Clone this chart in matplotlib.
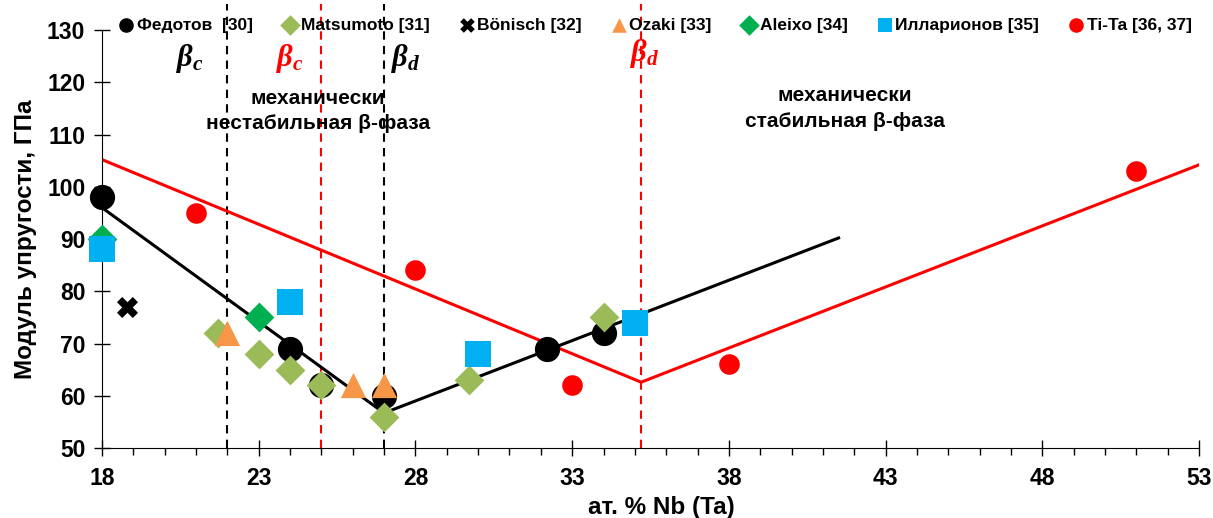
import numpy as np
import matplotlib.pyplot as plt
from matplotlib.ticker import MultipleLocator

plt.rcParams['font.family'] = ['Liberation Sans', 'DejaVu Sans']
plt.rcParams['font.weight'] = 'bold'
plt.rcParams['mathtext.fontset'] = 'custom'
plt.rcParams['mathtext.it'] = 'Liberation Serif:italic:bold'
plt.rcParams['mathtext.rm'] = 'Liberation Serif:bold'

# data series
fedotov_x = [18, 24, 25, 27, 32.2, 34]
fedotov_y = [98, 69, 62, 60, 69, 72]
matsumoto_x = [21.7, 23, 24, 25, 27, 29.7, 34]
matsumoto_y = [72, 68, 65, 62, 56, 63, 75]
bonisch_x = [18.8]
bonisch_y = [77]
ozaki_x = [22, 26, 27]
ozaki_y = [72, 62, 62]
aleixo_x = [18, 23]
aleixo_y = [90, 75]
illarionov_x = [18, 24, 30, 35]
illarionov_y = [88, 78, 68, 74]
tita_x = [21, 28, 33, 38, 51]
tita_y = [95, 84, 62, 66, 103]

# trend lines (Ti-Nb black, Ti-Ta red)
nb_fit_x = [18, 27, 41.5]
nb_fit_y = [96, 56.7, 90.2]
ta_fit_x = [18, 35.2, 53]
ta_fit_y = [105.2, 62.6, 104.2]

# phase boundaries
nb_bounds = [22, 27]
ta_bounds = [25, 35.2]

fig = plt.figure(figsize=(12.13, 5.18), dpi=100)
ax = fig.add_axes([0.0841, 0.1351, 0.9044, 0.8574])

for xb in nb_bounds:
    ax.plot([xb, xb], [50, 135], color='black', ls=(0, (4, 3)), lw=1.5, zorder=1)
for xb in ta_bounds:
    ax.plot([xb, xb], [50, 135], color='red', ls=(0, (4, 3)), lw=1.5, zorder=1)

ax.plot(nb_fit_x, nb_fit_y, color='black', lw=2.2, zorder=2)
ax.plot(ta_fit_x, ta_fit_y, color='red', lw=2.2, zorder=2)

kw = dict(zorder=3, clip_on=False, linewidths=0)
ax.scatter(fedotov_x, fedotov_y, s=330, marker='o', color='black', label='Федотов  [30]', **kw)
ax.scatter(matsumoto_x, matsumoto_y, s=230, marker='D', color='#9BBB59', label='Matsumoto [31]', **kw)
ax.scatter(bonisch_x, bonisch_y, s=230, marker='X', color='black', label='Bönisch [32]', **kw)
ax.scatter(ozaki_x, ozaki_y, s=330, marker='^', color='#F79646', label='Ozaki [33]', **kw)
ax.scatter(aleixo_x, aleixo_y, s=230, marker='D', color='#00B050', label='Aleixo [34]', **kw)
ax.scatter(illarionov_x, illarionov_y, s=330, marker='s', color='#00B0F0', label='Илларионов [35]', **kw)
ax.scatter(tita_x, tita_y, s=220, marker='o', color='red', label='Ti-Ta [36, 37]', **kw)

ax.set_xlim(18, 53)
ax.set_ylim(50, 135)
ax.set_xticks([18, 23, 28, 33, 38, 43, 48, 53])
ax.xaxis.set_minor_locator(MultipleLocator(1))
ax.set_yticks(np.arange(50, 131, 10))
ax.spines['top'].set_visible(False)
ax.spines['right'].set_visible(False)
ax.spines['left'].set_bounds(50, 130)
ax.tick_params(axis='x', which='major', direction='inout', length=12, width=1, labelsize=16.5, pad=8)
ax.tick_params(axis='x', which='minor', direction='out', length=5, width=1)
ax.tick_params(axis='y', which='major', direction='inout', length=12, width=1, labelsize=16.5, pad=6)
for lab in ax.get_xticklabels() + ax.get_yticklabels():
    lab.set_fontweight('bold')

ax.set_xlabel('ат. % Nb (Ta)', fontsize=17.5, fontweight='bold')
ax.set_ylabel('Модуль упругости, ГПа', fontsize=17.5, fontweight='bold')
ax.xaxis.set_label_coords(0.51, -0.108)
ax.yaxis.set_label_coords(-0.059, 0.47)

ax.text(20.8, 124.5, r'$\beta_c$', fontsize=22, color='black', ha='center', va='center')
ax.text(24.0, 124.5, r'$\beta_c$', fontsize=22, color='red', ha='center', va='center')
ax.text(27.7, 124.5, r'$\beta_d$', fontsize=22, color='black', ha='center', va='center')
ax.text(35.3, 125.5, r'$\beta_d$', fontsize=22, color='red', ha='center', va='center')

ax.text(24.9, 114.5, 'механически\nнестабильная β-фаза', fontsize=15, fontweight='bold',
        ha='center', va='center', linespacing=1.45)
ax.text(41.7, 115, 'механически\nстабильная β-фаза', fontsize=15, fontweight='bold',
        ha='center', va='center', linespacing=1.45)

leg = ax.legend(loc='center left', bbox_to_anchor=(0.008, 0.9525), ncol=7, frameon=False,
                handletextpad=0.1, columnspacing=1.65, borderaxespad=0.0,
                handlelength=1.0, prop={'weight': 'bold', 'size': 12.5})
for h in leg.legend_handles:
    h.set_sizes([110])

fig.savefig('out.png', dpi=100)
